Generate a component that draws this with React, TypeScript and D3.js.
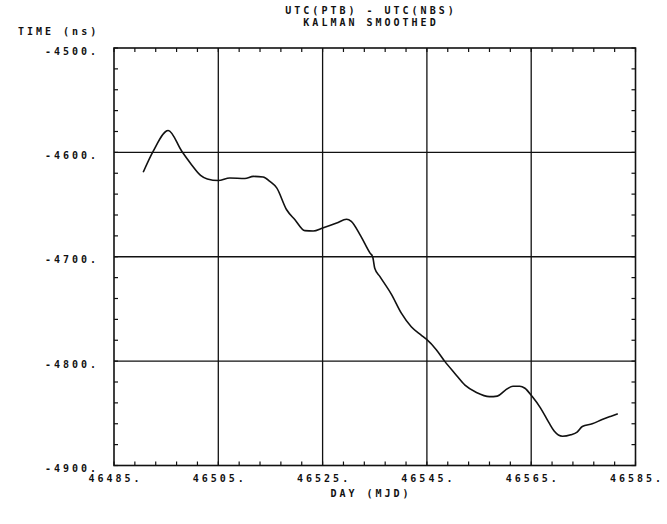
import React from "react";
import * as d3 from "d3";

const days = [
  46490.6, 46492.5, 46495.4, 46498.0, 46499.9, 46501.6, 46502.9, 46505.0, 46507.2, 46510.1,
  46511.7, 46513.6, 46514.9, 46516.2, 46518.1, 46519.7, 46521.6, 46523.2, 46525.0, 46527.7,
  46529.6, 46530.5, 46532.3, 46534.1, 46534.6, 46535.0, 46536.0, 46538.2, 46540.1, 46542.0,
  46543.9, 46544.9, 46546.8, 46548.4, 46550.4, 46552.3, 46554.5, 46557.0, 46558.5, 46560.0,
  46561.5, 46562.8, 46563.8, 46565.2, 46566.8, 46568.4, 46569.4, 46571.0, 46572.6, 46573.8,
  46574.8, 46576.7, 46578.6, 46580.2, 46581.6,
];
const timeNs = [
  -4619, -4599, -4579, -4599, -4612, -4622, -4625.5, -4627, -4624.6, -4625,
  -4623, -4623.6, -4627.8, -4634, -4655, -4664.5, -4675, -4675.4, -4672.5, -4667.7,
  -4664, -4666, -4680, -4696.5, -4700, -4711, -4719, -4736, -4754, -4767,
  -4775, -4779, -4789, -4800, -4812, -4823, -4830, -4834, -4833.5, -4828,
  -4824, -4824, -4826, -4834, -4845, -4859, -4867, -4872, -4870.6, -4868,
  -4862.6, -4860, -4856, -4853, -4850.5,
];
const xTicks = [46485, 46505, 46525, 46545, 46565, 46585];
const yTicks = [-4500, -4600, -4700, -4800, -4900];
const titleLines = ["UTC(PTB) - UTC(NBS)", "KALMAN SMOOTHED"];
const yLabel = "TIME (ns)";
const xLabel = "DAY (MJD)";

const W = 667, H = 524;
const L = 114, R = 635.5, T = 48, B = 465.5;

const FONT: React.CSSProperties = {
  fontFamily: "'DejaVu Sans Mono', monospace",
  fontSize: 10,
  fontWeight: "bold",
  letterSpacing: "3px",
  fill: "#111",
};

export default function App() {
  const x = d3.scaleLinear().domain([46485, 46585]).range([L, R]);
  const y = d3.scaleLinear().domain([-4900, -4500]).range([B, T]);
  const pts = days.map((d, i) => [d, timeNs[i]] as [number, number]);
  const line = d3
    .line<[number, number]>()
    .x((d) => x(d[0]))
    .y((d) => y(d[1]))
    .curve(d3.curveMonotoneX);

  const minorX = d3.range(46485, 46585.01, 4);
  const minorY = d3.range(-4900, -4499.99, 20);
  const tl = 4;

  return (
    <svg
      width={W}
      height={H}
      style={{ position: "absolute", left: 0, top: 0, background: "#fff" }}
    >
      <rect x={0} y={0} width={W} height={H} fill="#fff" />
      {xTicks.slice(1, -1).map((t) => (
        <line key={"gx" + t} x1={x(t)} x2={x(t)} y1={T} y2={B} stroke="#111" strokeWidth={1.3} />
      ))}
      {yTicks.slice(1, -1).map((t) => (
        <line key={"gy" + t} x1={L} x2={R} y1={y(t)} y2={y(t)} stroke="#111" strokeWidth={1.3} />
      ))}
      {minorX.map((t) => (
        <g key={"mx" + t}>
          <line x1={x(t)} x2={x(t)} y1={T} y2={T + tl} stroke="#111" strokeWidth={1.2} />
          <line x1={x(t)} x2={x(t)} y1={B} y2={B - tl} stroke="#111" strokeWidth={1.2} />
        </g>
      ))}
      {minorY.map((t) => (
        <g key={"my" + t}>
          <line x1={L} x2={L + tl} y1={y(t)} y2={y(t)} stroke="#111" strokeWidth={1.2} />
          <line x1={R} x2={R - tl} y1={y(t)} y2={y(t)} stroke="#111" strokeWidth={1.2} />
        </g>
      ))}
      <rect x={L} y={T} width={R - L} height={B - T} fill="none" stroke="#111" strokeWidth={1.6} />
      <path d={line(pts) || ""} fill="none" stroke="#111" strokeWidth={1.6} />
      {yTicks.map((t) => (
        <text key={"ly" + t} x={99} y={y(t) + 6.5} textAnchor="end" style={FONT}>
          {(t < 0 ? "-" : "") + Math.abs(t) + "."}
        </text>
      ))}
      {xTicks.map((t) => (
        <text key={"lx" + t} x={x(t) + 1.5} y={482} textAnchor="middle" style={FONT}>
          {t + "."}
        </text>
      ))}
      <text x={371} y={14} textAnchor="middle" style={FONT}>{titleLines[0]}</text>
      <text x={371} y={25.5} textAnchor="middle" style={FONT}>{titleLines[1]}</text>
      <text x={18} y={35} style={FONT}>{yLabel}</text>
      <text x={371} y={497} textAnchor="middle" style={FONT}>{xLabel}</text>
    </svg>
  );
}
